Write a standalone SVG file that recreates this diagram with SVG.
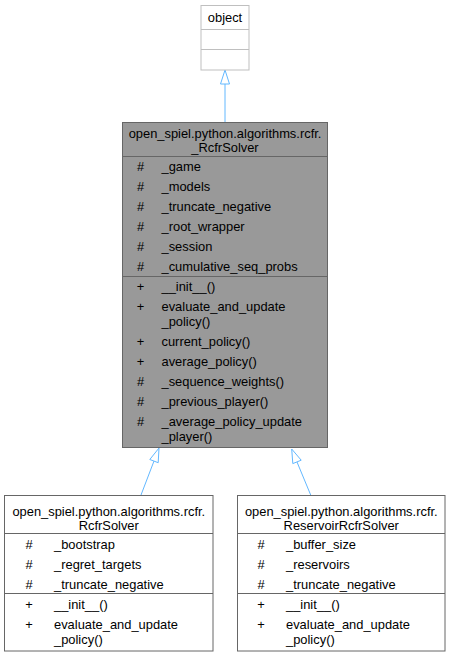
<svg xmlns="http://www.w3.org/2000/svg" width="451" height="656" viewBox="0 0 451 656">
<style>
text{font-family:"Liberation Sans",Arial,Helvetica,sans-serif;font-size:12.9px;fill:#000}
.c{text-anchor:middle}
.box{fill:#fff;stroke:#666666;stroke-width:1}
.obj{fill:#fff;stroke:#bfbfbf;stroke-width:1}
.main{fill:#999999;stroke:#666666;stroke-width:1}
.sepw{stroke:#666666;stroke-width:1}
.sepo{stroke:#bfbfbf;stroke-width:1}
.edge{stroke:#63b8ff;stroke-width:1;fill:none}
.head{stroke:#63b8ff;stroke-width:1;fill:#fff}
</style>
<rect width="451" height="656" fill="#fff"/>
<g id="connectors">
<line class="edge" x1="225" y1="122" x2="225" y2="84"/>
<polygon class="head" points="225,70 220.5,84 229.5,84"/>
<line class="edge" x1="141" y1="495" x2="154" y2="461"/>
<polygon class="head" points="159,448 149.8,459.5 158.2,462.7"/>
<line class="edge" x1="310.7" y1="495" x2="297" y2="462"/>
<polygon class="head" points="291.7,449 292.8,463.6 301.2,460.2"/>
</g>
<g id="node-object">
<rect class="obj" x="201" y="5.5" width="48" height="64.5"/>
<line class="sepo" x1="201" y1="29.5" x2="249" y2="29.5"/>
<line class="sepo" x1="201" y1="49.5" x2="249" y2="49.5"/>
<text class="c" x="225" y="22">object</text>
</g>
<g id="node-RcfrSolverBase">
<rect class="main" x="122.5" y="122.5" width="205" height="325"/>
<line class="sepw" x1="122.5" y1="156.5" x2="327.5" y2="156.5"/>
<line class="sepw" x1="122.5" y1="276.5" x2="327.5" y2="276.5"/>
<text class="c" x="225" y="137.5">open_spiel.python.algorithms.rcfr.</text>
<text class="c" x="225" y="151.5">_RcfrSolver</text>
<text class="c" x="140.5" y="171">#</text><text x="161.5" y="171">_game</text>
<text class="c" x="140.5" y="191">#</text><text x="161.5" y="191">_models</text>
<text class="c" x="140.5" y="211">#</text><text x="161.5" y="211">_truncate_negative</text>
<text class="c" x="140.5" y="231">#</text><text x="161.5" y="231">_root_wrapper</text>
<text class="c" x="140.5" y="251">#</text><text x="161.5" y="251">_session</text>
<text class="c" x="140.5" y="271">#</text><text x="161.5" y="271">_cumulative_seq_probs</text>
<text class="c" x="140.5" y="291">+</text><text x="161.5" y="291">__init__()</text>
<text class="c" x="140.5" y="311">+</text><text x="161.5" y="311">evaluate_and_update</text>
<text x="161.5" y="326">_policy()</text>
<text class="c" x="140.5" y="346">+</text><text x="161.5" y="346">current_policy()</text>
<text class="c" x="140.5" y="366">+</text><text x="161.5" y="366">average_policy()</text>
<text class="c" x="140.5" y="386">#</text><text x="161.5" y="386">_sequence_weights()</text>
<text class="c" x="140.5" y="406">#</text><text x="161.5" y="406">_previous_player()</text>
<text class="c" x="140.5" y="426">#</text><text x="161.5" y="426">_average_policy_update</text>
<text x="161.5" y="441">_player()</text>
</g>
<g id="node-RcfrSolver">
<rect class="box" x="4.5" y="495.5" width="208.5" height="155.5"/>
<line class="sepw" x1="4.5" y1="533.5" x2="213" y2="533.5"/>
<line class="sepw" x1="4.5" y1="593.5" x2="213" y2="593.5"/>
<text class="c" x="108.75" y="515.5">open_spiel.python.algorithms.rcfr.</text>
<text class="c" x="108.75" y="529.5">RcfrSolver</text>
<text class="c" x="29" y="548.5">#</text><text x="54" y="548.5">_bootstrap</text>
<text class="c" x="29" y="568.5">#</text><text x="54" y="568.5">_regret_targets</text>
<text class="c" x="29" y="588.5">#</text><text x="54" y="588.5">_truncate_negative</text>
<text class="c" x="29" y="608.5">+</text><text x="54" y="608.5">__init__()</text>
<text class="c" x="29" y="628.5">+</text><text x="54" y="628.5">evaluate_and_update</text>
<text x="54" y="643.5">_policy()</text>
</g>
<g id="node-ReservoirRcfrSolver">
<rect class="box" x="237.5" y="495.5" width="207.5" height="155.5"/>
<line class="sepw" x1="237.5" y1="533.5" x2="445" y2="533.5"/>
<line class="sepw" x1="237.5" y1="593.5" x2="445" y2="593.5"/>
<text class="c" x="341.25" y="515.5">open_spiel.python.algorithms.rcfr.</text>
<text class="c" x="341.25" y="529.5">ReservoirRcfrSolver</text>
<text class="c" x="261" y="548.5">#</text><text x="286" y="548.5">_buffer_size</text>
<text class="c" x="261" y="568.5">#</text><text x="286" y="568.5">_reservoirs</text>
<text class="c" x="261" y="588.5">#</text><text x="286" y="588.5">_truncate_negative</text>
<text class="c" x="261" y="608.5">+</text><text x="286" y="608.5">__init__()</text>
<text class="c" x="261" y="628.5">+</text><text x="286" y="628.5">evaluate_and_update</text>
<text x="286" y="643.5">_policy()</text>
</g>
</svg>
